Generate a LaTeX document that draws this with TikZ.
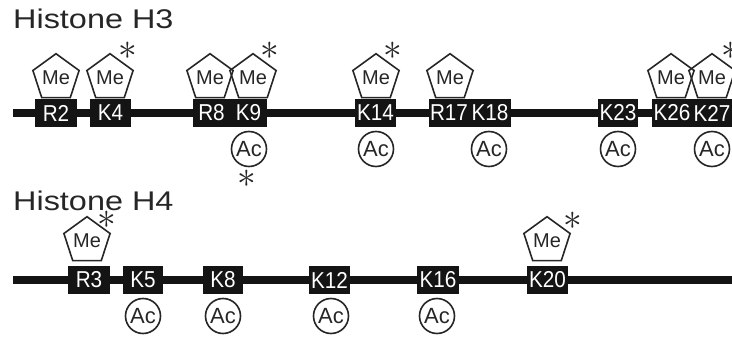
\documentclass[tikz,border=0pt]{standalone}
\usepackage{fontspec}
\setmainfont{Liberation Sans}
\usetikzlibrary{shapes.geometric,calc}
\newcommand{\reslab}[1]{\scalebox{0.9}[1]{#1}}
\newcommand{\astk}{\scalebox{1.5}{$\ast$}}
\tikzset{
  backbone/.style={line width=7.5pt, black!92},
  res/.style={fill=black!92, text=white, minimum height=28pt, inner sep=0pt, font=\fontsize{23}{23}\selectfont},
  me/.style={regular polygon, regular polygon sides=5, draw=black!85, line width=1.6pt, minimum size=42pt, inner sep=0pt, text=black!85, font=\fontsize{20}{20}\selectfont},
  ac/.style={circle, draw=black!85, line width=1.6pt, minimum size=35pt, inner sep=0pt, text=black!85, font=\fontsize{22}{22}\selectfont},
  astr/.style={inner sep=0pt, text=black!85, font=\fontsize{24}{24}\selectfont},
  title/.style={anchor=base west, inner sep=0pt, text=black!85, font=\fontsize{27}{27}\selectfont},
}
\begin{document}
\begin{tikzpicture}[x=1pt,y=-1pt]
\useasboundingbox (0,0) rectangle (732,337);
% titles
\node[title] (h3) at (13,29) {\scalebox{1.2}[1]{Histone H3}};
\node[title] (h4) at (13,211) {\scalebox{1.2}[1]{Histone H4}};
% backbones
\coordinate (a3) at (13,113);
\coordinate (b3) at (735,113);
\coordinate (a4) at (13,280);
\coordinate (b4) at (735,280);
\draw[backbone] (a3) -- (b3);
\draw[backbone] (a4) -- (b4);
% H3 residues
\node[res, minimum width=42pt] (R2) at (56,113) {\reslab{R2}};
\node[res, minimum width=41pt] (K4) at (110.5,113) {\reslab{K4}};
\node[res, minimum width=37pt] (R8) at (211.5,113) {\reslab{R8}};
\node[res, minimum width=37pt] (K9) at (248.5,113) {\reslab{K9}};
\node[res, minimum width=41pt] (K14) at (375.5,113) {\reslab{K14}};
\node[res, minimum width=40pt] (R17) at (449,113) {\reslab{R17}};
\node[res, minimum width=42pt] (K18) at (490,113) {\reslab{K18}};
\node[res, minimum width=40pt] (K23) at (618,113) {\reslab{K23}};
\node[res, minimum width=40pt] (K26) at (672,113) {\reslab{K26}};
\node[res, minimum width=40pt] (K27) at (712,113) {\reslab{K27}};
% H3 methylation
\node[me] (meR2) at (56,78) {Me};
\node[me] (meK4) at (110,78) {Me};
\node[me] (meR8) at (210,78) {Me};
\node[me] (meK9) at (253,78) {Me};
\node[me] (meK14) at (376,78) {Me};
\node[me] (meR17) at (450,78) {Me};
\node[me] (meK26) at (671,78) {Me};
\node[me] (meK27) at (712,78) {Me};
% H3 acetylation
\node[ac] (acK9) at (249,149) {Ac};
\node[ac] (acK14) at (376,149) {Ac};
\node[ac] (acK18) at (489,149) {Ac};
\node[ac] (acK23) at (618,149) {Ac};
\node[ac] (acK27) at (712,149) {Ac};
% H3 asterisks
\node[astr] (sK4) at (128,51) {\astk};
\node[astr] (sK9) at (270,51) {\astk};
\node[astr] (sK14) at (393,51) {\astk};
\node[astr] (sK27) at (731,51) {\astk};
\node[astr] (sK9ac) at (247,179) {\astk};
% H4 residues
\node[res, minimum width=42pt] (R3) at (89,280) {\reslab{R3}};
\node[res, minimum width=40pt] (K5) at (143,280) {\reslab{K5}};
\node[res, minimum width=40pt] (K8) at (223,280) {\reslab{K8}};
\node[res, minimum width=41pt] (K12) at (329.5,280) {\reslab{K12}};
\node[res, minimum width=42pt] (K16) at (438,280) {\reslab{K16}};
\node[res, minimum width=41pt] (K20) at (547.5,280) {\reslab{K20}};
% H4 methylation
\node[me] (meR3) at (87,241) {Me};
\node[me] (meK20) at (547,241) {Me};
% H4 acetylation
\node[ac] (acK5) at (143,316) {Ac};
\node[ac] (acK8) at (223,316) {Ac};
\node[ac] (acK12) at (331,316) {Ac};
\node[ac] (acK16) at (437,316) {Ac};
% H4 asterisks
\node[astr] (sR3) at (107,220) {\astk};
\node[astr] (sK20) at (573,221) {\astk};
\end{tikzpicture}
\end{document}
